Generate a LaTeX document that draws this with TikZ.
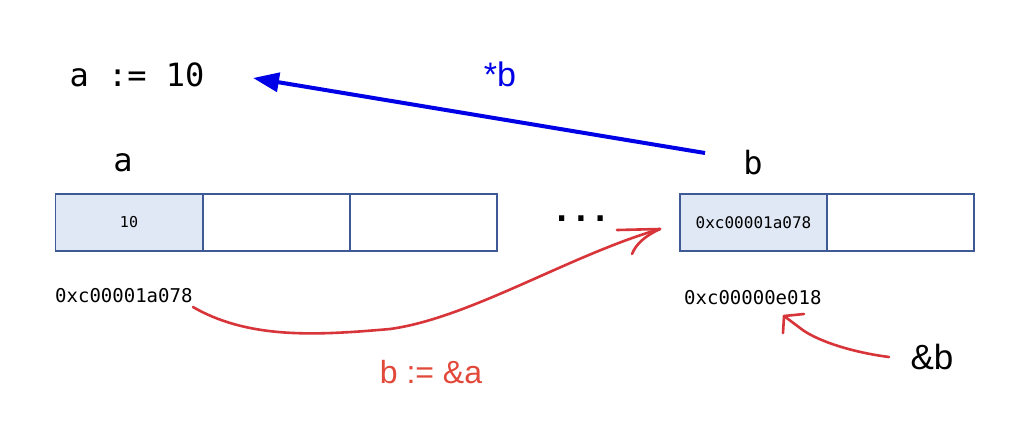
\documentclass[tikz,border=0pt]{standalone}
\usepackage{fontspec}
\setmainfont{Liberation Sans}
\setsansfont{Liberation Sans}
\setmonofont{DejaVu Sans Mono}
\usetikzlibrary{arrows.meta}
\definecolor{cellborder}{HTML}{3E5A96}
\definecolor{cellfill}{HTML}{DFE8F4}
\definecolor{ptrblue}{HTML}{0000E6}
\definecolor{handred}{HTML}{D8353A}
\definecolor{textred}{HTML}{E2493B}
\tikzset{
  cell/.style={draw=cellborder, line width=1.2pt, minimum width=147pt, minimum height=57pt, inner sep=0pt},
  filled/.style={cell, fill=cellfill},
  mono/.style={font=\ttfamily, inner sep=0pt},
  hand/.style={draw=handred, line width=2.6pt, line cap=round, line join=round},
}
\begin{document}
\begin{tikzpicture}[x=1pt,y=-1pt]
\useasboundingbox[fill=white] (0,0) rectangle (1032,440);
% top statement
\node[mono, font=\fontsize{32}{36}\selectfont\ttfamily] (assign) at (137,75) {a := 10};
\node[font=\fontsize{34}{38}\selectfont\sffamily, text=ptrblue, inner sep=0pt] (deref) at (500,74) {*b};
% variable labels
\node[mono, font=\fontsize{32}{36}\selectfont\ttfamily] (la) at (123,163) {a};
\node[mono, font=\fontsize{32}{36}\selectfont\ttfamily] (lb) at (753,163) {b};
% memory cells
\node[filled] (a1) at (129,222.5) {\fontsize{15}{18}\selectfont\ttfamily 10};
\node[cell] (a2) at (276.5,222.5) {};
\node[cell] (a3) at (423.5,222.5) {};
\node[mono, font=\fontsize{32}{36}\selectfont\bfseries\ttfamily] (dots) at (581,219) {...};
\node[filled] (b1) at (753.5,222.5) {\fontsize{16}{18}\selectfont\ttfamily 0xc00001a078};
\node[cell] (b2) at (900.5,222.5) {};
% addresses
\node[mono, font=\fontsize{19}{22}\selectfont\ttfamily, anchor=west] (addra) at (55,296) {0xc00001a078};
\node[mono, font=\fontsize{19}{22}\selectfont\ttfamily, anchor=west] (addrb) at (684,298) {0xc00000e018};
% labels
\node[font=\fontsize{32}{36}\selectfont\sffamily, text=textred, inner sep=0pt] (assignb) at (431,372) {b := \&a};
\node[font=\fontsize{35}{40}\selectfont\sffamily, inner sep=0pt] (refb) at (932,357) {\&b};
% blue pointer arrow
\coordinate (bstart) at (705,153);
\coordinate (bend) at (253,78);
\draw[ptrblue, line width=4pt, -{Triangle[length=26pt,width=19pt]}] (bstart) -- (bend);
% red hand-drawn arrow: b := &a
\coordinate (r1s) at (193,307);
\coordinate (r1m) at (390,329);
\coordinate (r1e) at (660,229);
\draw[hand] (r1s) .. controls (250,340) and (320,335) .. (r1m)
  .. controls (470,318) and (570,255) .. (r1e);
\coordinate (r1b1) at (617,230);
\coordinate (r1b2) at (632,254);
\draw[hand] (r1b1) -- (r1e);
\draw[hand] (r1b2) .. controls (636,244) and (645,236) .. (r1e);
% red hand-drawn arrow: &b
\coordinate (r2s) at (889,357);
\coordinate (r2e) at (784,316);
\draw[hand] (r2s) .. controls (850,352) and (815,340) .. (800,328) -- (r2e);
\coordinate (r2b1) at (804,314);
\coordinate (r2b2) at (783,333);
\draw[hand] (r2b1) -- (r2e) -- (r2b2);
\end{tikzpicture}
\end{document}
